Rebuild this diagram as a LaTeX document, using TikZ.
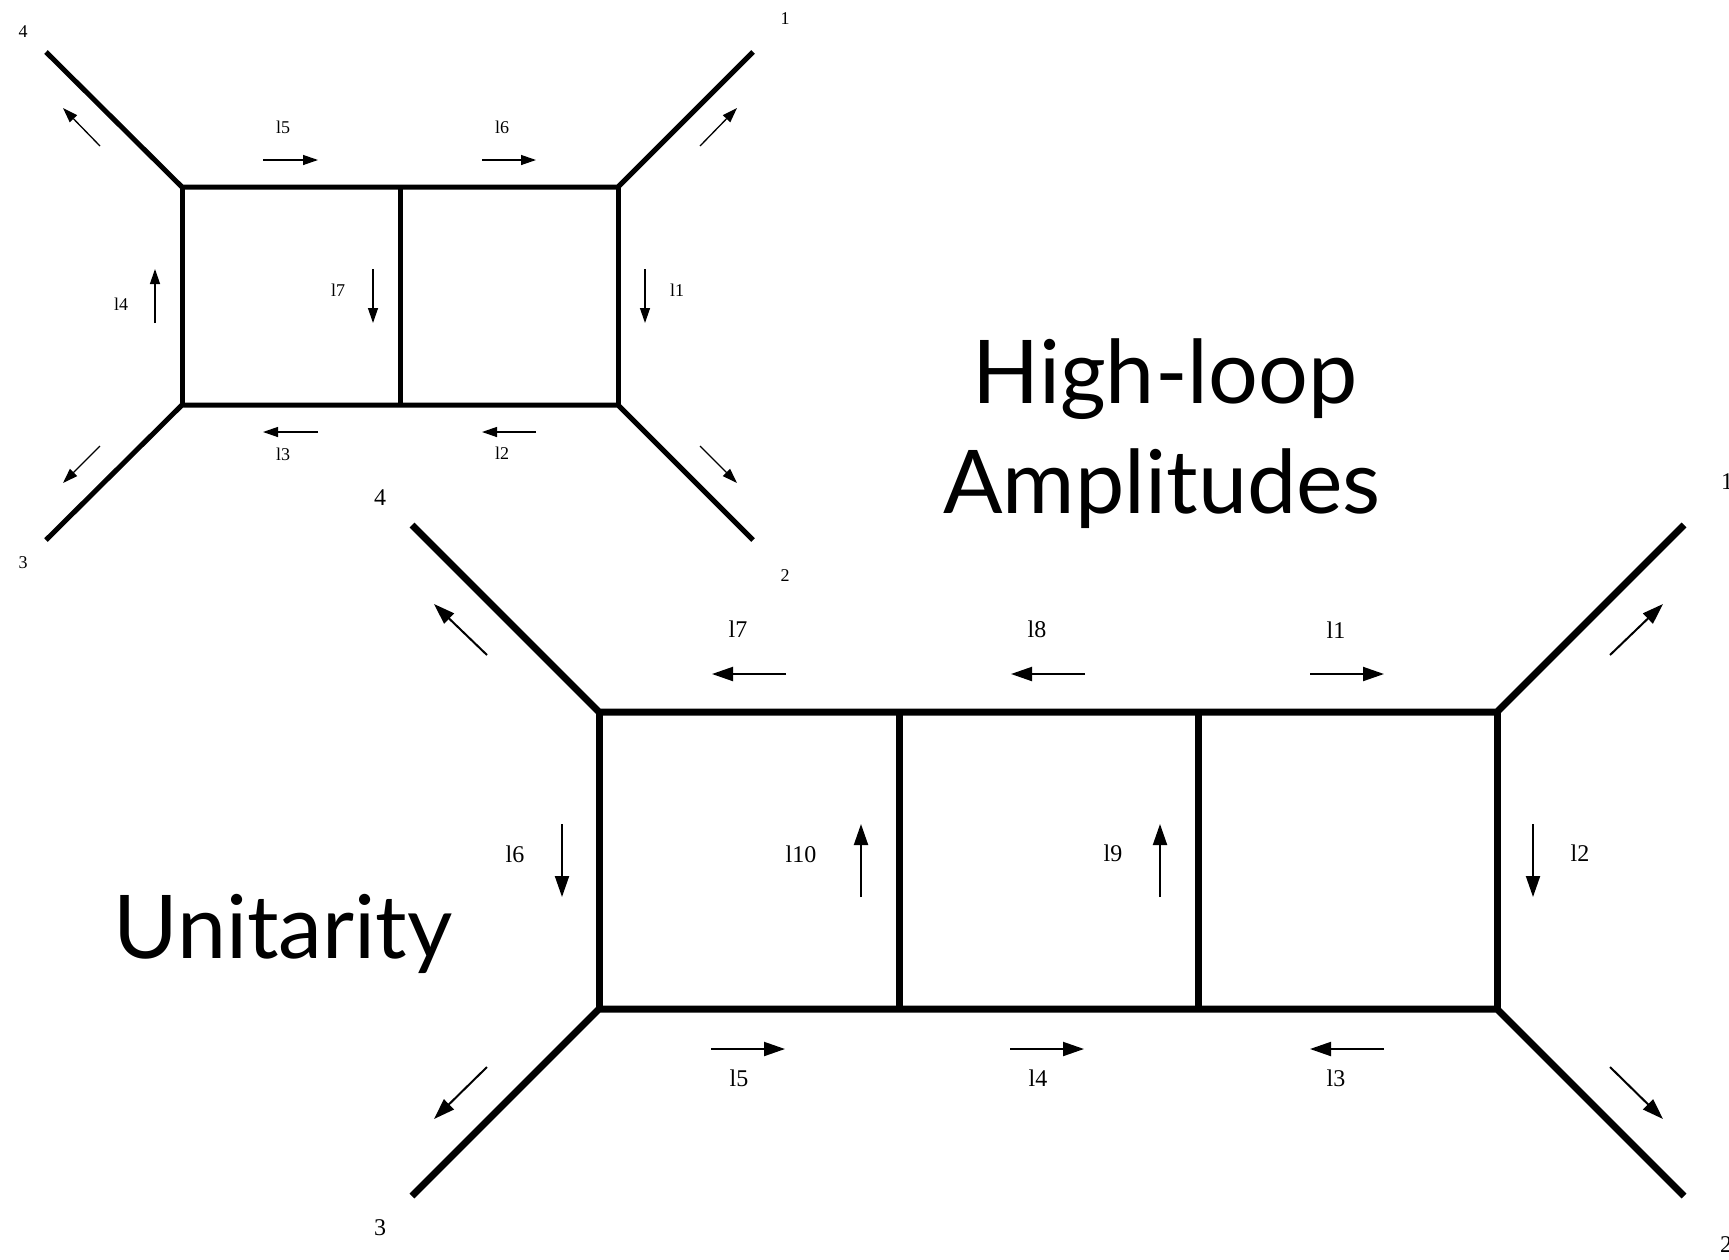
\documentclass[tikz,border=0pt]{standalone}
\usepackage{fontspec}
\setmainfont{Liberation Serif}
\newfontfamily\titlefont{Lato}
\usetikzlibrary{arrows.meta}
\begin{document}
\begin{tikzpicture}[x=1pt,y=-1pt,
  smallprop/.style={line width=5pt,line join=miter},
  bigprop/.style={line width=7pt,line join=miter},
  smallmom/.style={line width=1.3pt,-{Triangle[length=15pt,width=10pt]}},
  bigmom/.style={line width=2pt,-{Triangle[length=21pt,width=14pt]}},
  smalllab/.style={inner sep=0pt,font=\fontsize{18}{20}\selectfont},
  biglab/.style={inner sep=0pt,font=\fontsize{24}{26}\selectfont},
  title/.style={inner sep=0pt,anchor=base,font=\titlefont\fontsize{88}{96}\selectfont}]
\useasboundingbox (0,0) rectangle (1729,1259);

% ---------- two-loop box ----------
\coordinate (a1) at (182,187);
\coordinate (a2) at (400,187);
\coordinate (a3) at (618,187);
\coordinate (a4) at (182,405);
\coordinate (a5) at (400,405);
\coordinate (a6) at (618,405);
\coordinate (e4) at (46,52);
\coordinate (e1) at (753,52);
\coordinate (e3) at (46,540);
\coordinate (e2) at (753,540);
\draw[smallprop] (e4) -- (a1) -- (a3) -- (e1);
\draw[smallprop] (e3) -- (a4) -- (a6) -- (e2);
\draw[smallprop] (a1) -- (a4);
\draw[smallprop] (a2) -- (a5);
\draw[smallprop] (a3) -- (a6);

\node[smalllab] (n4) at (23,32) {4};
\node[smalllab] (n1) at (785,19) {1};
\node[smalllab] (n3) at (23,563) {3};
\node[smalllab] (n2) at (785,576) {2};

\node[smalllab] (t5) at (283,127) {l5};
\node[smalllab] (t6) at (502,127) {l6};
\node[smalllab] (t4) at (121,304) {l4};
\node[smalllab] (t7) at (338,290) {l7};
\node[smalllab] (t1) at (677,290) {l1};
\node[smalllab] (t3) at (283,454) {l3};
\node[smalllab] (t2) at (502,453) {l2};

\draw[smallmom] (263,160) -- (318,160);
\draw[smallmom] (482,160) -- (536,160);
\draw[smallmom] (155,323) -- (155,269);
\draw[smallmom] (373,269) -- (373,323);
\draw[smallmom] (645,269) -- (645,323);
\draw[smallmom] (318,432) -- (263,432);
\draw[smallmom] (536,432) -- (482,432);
\draw[smallmom] (100,146) -- (63,108);
\draw[smallmom] (100,446) -- (63,483);
\draw[smallmom] (700,146) -- (737,108);
\draw[smallmom] (700,446) -- (737,483);

% ---------- three-loop ladder ----------
\coordinate (b1) at (599,712);
\coordinate (b2) at (899,712);
\coordinate (b3) at (1198,712);
\coordinate (b4) at (1497,712);
\coordinate (c1) at (599,1009);
\coordinate (c2) at (899,1009);
\coordinate (c3) at (1198,1009);
\coordinate (c4) at (1497,1009);
\coordinate (f4) at (412,525);
\coordinate (f1) at (1684,525);
\coordinate (f3) at (412,1196);
\coordinate (f2) at (1684,1196);
\draw[bigprop] (f4) -- (b1) -- (b4) -- (f1);
\draw[bigprop] (f3) -- (c1) -- (c4) -- (f2);
\draw[bigprop] (b1) -- (c1);
\draw[bigprop] (b2) -- (c2);
\draw[bigprop] (b3) -- (c3);
\draw[bigprop] (b4) -- (c4);

\node[biglab] (m4) at (380,498) {4};
\node[biglab] (m3) at (380,1228) {3};
\node[biglab] (m1) at (1727,482) {1};
\node[biglab] (m2) at (1726,1245) {2};

\node[biglab] (s7) at (738,629) {l7};
\node[biglab] (s8) at (1037,629) {l8};
\node[biglab] (s1) at (1336,630) {l1};
\node[biglab] (s5) at (739,1078) {l5};
\node[biglab] (s4) at (1038,1078) {l4};
\node[biglab] (s3) at (1336,1078) {l3};
\node[biglab] (s6) at (515,854) {l6};
\node[biglab] (s10) at (801,854) {l10};
\node[biglab] (s9) at (1113,853) {l9};
\node[biglab] (s2) at (1580,853) {l2};

\draw[bigmom] (786,674) -- (712,674);
\draw[bigmom] (1085,674) -- (1011,674);
\draw[bigmom] (1310,674) -- (1384,674);
\draw[bigmom] (711,1049) -- (785,1049);
\draw[bigmom] (1010,1049) -- (1084,1049);
\draw[bigmom] (1384,1049) -- (1310,1049);
\draw[bigmom] (562,824) -- (562,897);
\draw[bigmom] (861,897) -- (861,824);
\draw[bigmom] (1160,897) -- (1160,824);
\draw[bigmom] (1533,824) -- (1533,897);
\draw[bigmom] (487,655) -- (434,604);
\draw[bigmom] (487,1067) -- (434,1119);
\draw[bigmom] (1610,655) -- (1663,604);
\draw[bigmom] (1610,1067) -- (1663,1119);

% ---------- titles ----------
\node[title] (hl) at (1165,403) {High-loop};
\node[title] (am) at (1162,513) {Amplitudes};
\node[title] (un) at (283,958) {Unitarity};
\end{tikzpicture}
\end{document}
